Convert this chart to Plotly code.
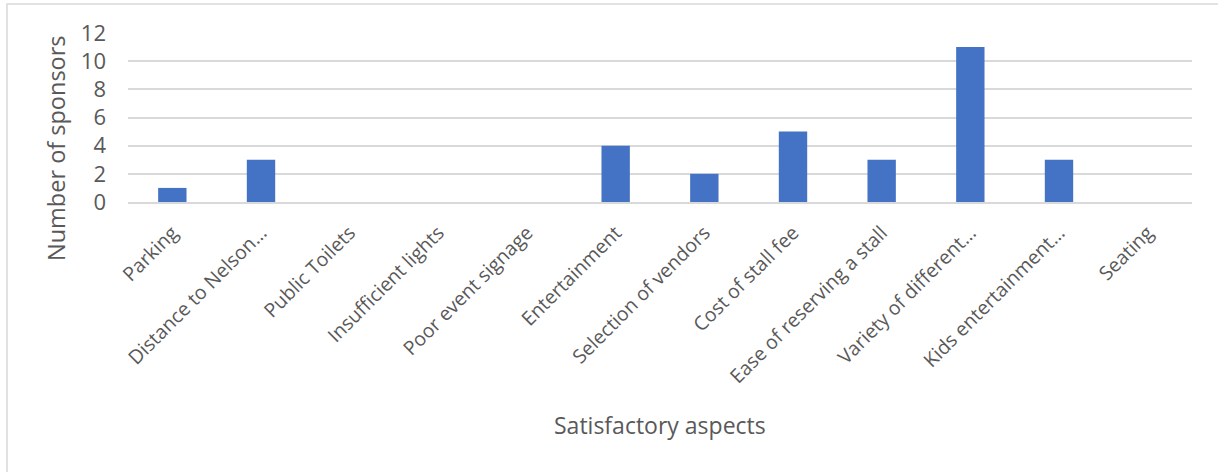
import plotly.graph_objects as go

# Satisfactory aspects reported by sponsors
aspects = [
    "Parking",
    "Distance to Nelson…",
    "Public Toilets",
    "Insufficient lights",
    "Poor event signage",
    "Entertainment",
    "Selection of vendors",
    "Cost of stall fee",
    "Ease of reserving a stall",
    "Variety of different…",
    "Kids entertainment…",
    "Seating",
]
sponsor_counts = [1, 3, 0, 0, 0, 4, 2, 5, 3, 11, 3, 0]
y_ticks = [0, 2, 4, 6, 8, 10, 12]

FONT = "Open Sans"
TEXT = "#595959"
GRID = "#d9d9d9"

W, H = 1218, 472
L, R, T, B = 128, 26, 33, 270
pw, ph = W - L - R, H - T - B


def px_x(x):
    return (x - L) / pw


def px_y(y):
    return (H - B - y) / ph


fig = go.Figure(
    go.Bar(
        x=aspects,
        y=sponsor_counts,
        marker=dict(color="#4472C4", line=dict(width=0)),
        hoverinfo="x+y",
    )
)

fig.update_layout(
    width=W,
    height=H,
    margin=dict(l=L, r=R, t=T, b=B),
    paper_bgcolor="white",
    plot_bgcolor="white",
    bargap=0.68,
    showlegend=False,
    font=dict(family=FONT, color=TEXT),
    xaxis=dict(
        tickangle=-45,
        tickfont=dict(size=19.5, color=TEXT),
        showgrid=False,
        showline=True,
        linecolor=GRID,
        linewidth=1.5,
        ticks="",
        ticklabelstandoff=10,
    ),
    yaxis=dict(
        range=[0, 12],
        tickvals=y_ticks,
        tickfont=dict(size=22, color=TEXT),
        showgrid=True,
        gridcolor=GRID,
        gridwidth=1.5,
        zeroline=False,
        showline=False,
        ticks="",
        ticklabelstandoff=21,
    ),
    shapes=[
        dict(
            type="rect",
            xref="paper",
            yref="paper",
            x0=px_x(7),
            x1=px_x(1230),
            y0=px_y(490),
            y1=px_y(4),
            line=dict(color=GRID, width=1.5),
            fillcolor="rgba(0,0,0,0)",
            layer="below",
        )
    ],
    annotations=[
        dict(
            text="Satisfactory aspects",
            xref="paper",
            yref="paper",
            x=px_x(660),
            y=px_y(425),
            showarrow=False,
            font=dict(size=23, color=TEXT),
            xanchor="center",
            yanchor="middle",
        ),
        dict(
            text="Number of sponsors",
            xref="paper",
            yref="paper",
            x=px_x(56),
            y=px_y(148),
            textangle=-90,
            showarrow=False,
            font=dict(size=23.5, color=TEXT),
            xanchor="center",
            yanchor="middle",
        ),
    ],
)

fig.write_html("out.html")
